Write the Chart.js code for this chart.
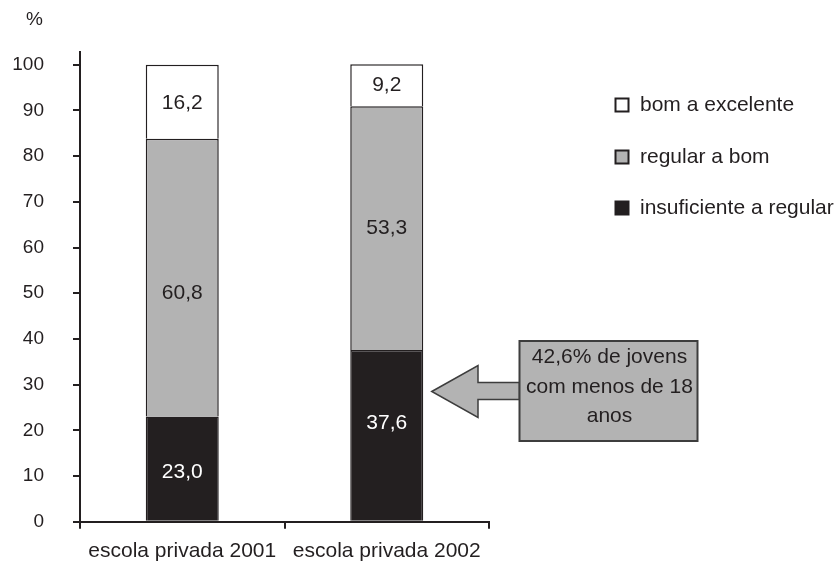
<!DOCTYPE html>
<html><head><meta charset="utf-8">
<script src="https://cdn.jsdelivr.net/npm/chart.js@4/dist/chart.umd.min.js"></script>
<style>html,body{margin:0;padding:0;background:#fff}#wrap{width:838px;height:564px}</style>
</head><body><div id="wrap"><canvas id="c" width="838" height="564"></canvas></div>
<script>
const categories = ['escola privada 2001', 'escola privada 2002'];
const seriesNames = ['insuficiente a regular', 'regular a bom', 'bom a excelente'];
const insuficiente = [23.0, 37.6];
const regular = [60.8, 53.3];
const bom = [16.2, 9.2];
const yTicks = [0, 10, 20, 30, 40, 50, 60, 70, 80, 90, 100];
const yUnit = '%';
const calloutLines = ['42,6% de jovens', 'com menos de 18', 'anos'];

const FONT = '"Liberation Sans", Arial, Helvetica, sans-serif';
const INK = '#231f20';
const GRAY = '#b3b3b3';
const fills = [INK, GRAY, '#ffffff'];
const labelColors = ['#ffffff', INK, INK];
// per-dataset, per-bar vertical nudges for the value labels (style only)
const labelNudge = [[4, -12], [15, 0], [1, 0]];

const labelsPlugin = {
  id: 'valueLabels',
  afterDatasetsDraw(chart) {
    const ctx = chart.ctx;
    ctx.save();
    ctx.font = '21px ' + FONT;
    ctx.textAlign = 'center';
    ctx.textBaseline = 'middle';
    chart.data.datasets.forEach((ds, di) => {
      const meta = chart.getDatasetMeta(di);
      meta.data.forEach((el, i) => {
        const y = (el.y + el.base) / 2 + labelNudge[di][i];
        ctx.fillStyle = labelColors[di];
        ctx.fillText(ds.data[i].toFixed(1).replace('.', ','), el.x, y);
      });
    });
    ctx.restore();
  }
};

const extrasPlugin = {
  id: 'extras',
  afterDraw(chart) {
    const ctx = chart.ctx;
    const ys = chart.scales.y;
    ctx.save();
    // unit label
    ctx.font = '19px ' + FONT;
    ctx.fillStyle = INK;
    ctx.textAlign = 'right';
    ctx.textBaseline = 'middle';
    ctx.fillText(yUnit, 43, 20);

    // legend (top to bottom: reversed order)
    const order = [2, 1, 0];
    const legY = [105, 157, 208];
    ctx.font = '21px ' + FONT;
    ctx.textAlign = 'left';
    order.forEach((di, k) => {
      const y = legY[k];
      ctx.fillStyle = fills[di];
      ctx.fillRect(615.5, y - 6.5, 13, 13);
      ctx.strokeStyle = INK;
      ctx.lineWidth = 2;
      ctx.strokeRect(615.5, y - 6.5, 13, 13);
      ctx.fillStyle = INK;
      ctx.fillText(seriesNames[di], 640, y);
    });

    // callout arrow + box
    const bar = chart.getDatasetMeta(0).data[1];
    const tipX = bar.x + bar.width / 2 + 8.5;
    const tipY = ys.getPixelForValue(28.5);
    const bx = 519.5, by = 341, bw = 178, bh = 100;
    ctx.beginPath();
    ctx.moveTo(tipX, tipY);
    ctx.lineTo(478, tipY - 26);
    ctx.lineTo(478, tipY - 9);
    ctx.lineTo(bx, tipY - 9);
    ctx.lineTo(bx, tipY + 8);
    ctx.lineTo(478, tipY + 8);
    ctx.lineTo(478, tipY + 26);
    ctx.closePath();
    ctx.fillStyle = GRAY;
    ctx.fill();
    ctx.strokeStyle = '#3d3d3d';
    ctx.lineWidth = 1.5;
    ctx.stroke();
    ctx.fillStyle = GRAY;
    ctx.fillRect(bx, by, bw, bh);
    ctx.lineWidth = 2;
    ctx.strokeRect(bx, by, bw, bh);
    ctx.fillStyle = INK;
    ctx.font = '21px ' + FONT;
    ctx.textAlign = 'center';
    ctx.textBaseline = 'alphabetic';
    calloutLines.forEach((t, k) => ctx.fillText(t, bx + bw / 2 + 1, 363 + k * 29.5));
    ctx.restore();
  }
};

const commonDs = { borderColor: INK, borderWidth: 1.5, barPercentage: 0.357, categoryPercentage: 1 };

new Chart(document.getElementById('c'), {
  type: 'bar',
  data: {
    labels: categories,
    datasets: [
      Object.assign({ label: seriesNames[0], data: insuficiente, backgroundColor: fills[0] }, commonDs),
      Object.assign({ label: seriesNames[1], data: regular, backgroundColor: fills[1] }, commonDs),
      Object.assign({ label: seriesNames[2], data: bom, backgroundColor: fills[2] }, commonDs)
    ]
  },
  options: {
    responsive: false,
    animation: false,
    devicePixelRatio: 1,
    layout: { padding: { left: 10, right: 349, top: 52, bottom: 0 } },
    plugins: { legend: { display: false }, tooltip: { enabled: false } },
    scales: {
      x: {
        stacked: true,
        afterFit(scale) { scale.height = 42.3; },
        border: { display: true, color: INK, width: 2 },
        grid: { display: true, drawOnChartArea: false, drawTicks: true, tickLength: 7, color: INK, lineWidth: 2, offset: true },
        ticks: { color: INK, font: { family: FONT, size: 21 }, padding: 10, maxRotation: 0 }
      },
      y: {
        stacked: true,
        min: 0,
        max: 102.8,
        afterBuildTicks(scale) { scale.ticks = yTicks.map(v => ({ value: v })); },
        afterFit(scale) { scale.width = 70; },
        border: { display: true, color: INK, width: 2 },
        grid: { display: true, drawOnChartArea: false, drawTicks: true, tickLength: 7, color: INK, lineWidth: 2 },
        ticks: { color: INK, font: { family: FONT, size: 19 }, padding: 29 }
      }
    }
  },
  plugins: [labelsPlugin, extrasPlugin]
});
</script></body></html>
